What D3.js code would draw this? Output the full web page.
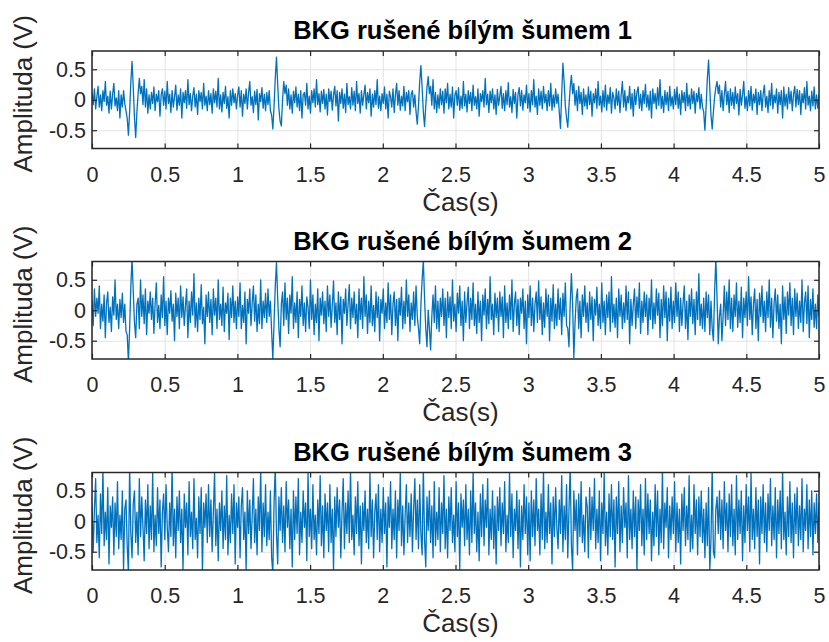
<!DOCTYPE html>
<html>
<head>
<meta charset="utf-8">
<script src="https://cdn.jsdelivr.net/npm/d3@7"></script>
<style>
  body { margin: 0; background: #fff; }
  text { font-family: "Liberation Sans", Arial, Helvetica, sans-serif; }
</style>
</head>
<body>
<div id="chart"></div>
<script>
// signal values (V), evenly spaced over 0..5 s
const sig1 = [
  .12,-.08,.18,-.15,.05,.22,-.12,.08,-.18,.15,-.03,.3,-.09,.06,-.22,.14,-.15,.09,.27,-.1,.03,-.18,.15,-.3,
  .08,-.12,.15,-.06,-.18,-.3,-.58,-.2,.3,.63,.2,-.3,-.62,-.2,.1,.35,.1,.22,-.08,.33,-.12,.18,-.22,.08,
  -.15,.12,-.06,.21,-.18,.09,-.03,.15,-.27,.08,.18,-.09,.14,-.15,.3,-.06,.09,-.21,.15,-.12,.05,.24,-.17,.08,
  -.09,.18,-.3,.12,-.05,.15,-.14,.33,-.08,.1,-.18,.06,.2,-.12,.09,-.24,.15,-.03,.12,-.15,.27,-.09,.06,-.18,
  .15,-.08,.1,-.22,.18,-.05,.14,-.12,.35,-.15,.08,-.2,.12,-.06,.22,-.14,.05,-.3,.15,-.09,.18,-.05,.1,-.15,
  .08,.21,-.12,.15,-.27,.09,-.06,.18,-.15,.12,.3,-.09,.05,-.21,.14,-.08,.17,-.33,.1,-.03,.2,-.14,.09,-.18,
  .12,-.08,.15,-.18,-.25,-.48,-.1,.35,.7,.25,-.15,-.35,-.43,0,.3,.1,.24,-.09,.18,-.15,.08,-.22,.14,-.05,
  .21,-.12,.09,-.18,.15,-.3,.08,.12,-.09,.27,-.15,.06,-.22,.15,-.05,.18,-.12,.33,-.08,.1,-.2,.14,-.06,.17,
  -.15,.09,-.25,.18,-.03,.14,-.17,.08,.22,-.1,.15,-.35,.12,-.06,.18,-.14,.09,-.21,.27,-.08,.05,-.15,.2,-.09,
  .14,-.18,.3,-.06,.1,-.22,.15,-.09,.08,.24,-.15,.12,-.05,.18,-.27,.09,-.12,.15,-.08,.33,-.14,.06,-.18,.1,
  -.06,.21,-.15,.09,-.3,.14,.05,-.12,.18,-.21,.08,.27,-.09,.15,-.17,.06,-.1,.22,-.18,.12,-.03,.15,-.24,.09,
  .15,-.12,.08,-.2,-.4,-.1,.3,.56,.2,-.2,-.44,-.1,.2,.38,.1,.22,-.09,.33,-.15,.12,-.21,.08,-.14,.18,
  -.08,.14,-.22,.18,-.05,.27,-.15,.09,-.12,.21,-.3,.08,.15,-.09,.2,-.17,.06,-.14,.3,-.1,.09,-.2,.15,-.06,
  .12,-.18,.24,-.09,.05,-.15,.18,-.27,.1,-.03,.15,-.12,.35,-.08,.09,-.21,.14,-.05,.18,-.15,.08,-.24,.17,-.09,
  .06,.22,-.14,.1,-.18,.15,-.08,.28,-.12,.05,-.21,.17,-.06,.12,-.3,.09,.2,-.1,.15,-.17,.08,-.05,.24,-.14,
  .1,-.2,.15,-.08,.33,-.12,.06,-.24,.18,-.09,.14,-.15,.22,-.05,.09,-.18,.15,-.1,.27,-.17,.08,-.12,.18,-.06,
  .09,-.2,-.47,.1,.6,.3,-.1,-.3,-.45,-.1,.2,.4,.1,.27,-.09,.15,-.18,.22,-.06,.12,-.24,.18,-.1,.08,
  -.15,.21,-.08,.14,-.27,.1,-.05,.18,-.14,.3,-.09,.06,-.2,.15,-.12,.24,-.17,.08,-.06,.2,-.22,.12,.03,-.15,
  .18,-.09,.14,-.21,.08,.3,-.12,.15,-.18,.06,-.05,.22,-.15,.1,-.27,.17,-.08,.12,.21,-.14,.09,-.18,.15,-.06,
  .25,-.12,.08,-.17,.14,-.3,.18,-.06,.1,-.15,.2,-.09,.33,-.14,.06,-.21,.15,-.08,.12,-.18,.22,-.1,.05,-.15,
  .17,-.08,.21,-.14,.09,-.24,.15,-.05,.12,-.18,.27,-.1,.08,-.15,.18,-.06,.14,-.22,.1,-.03,.2,-.15,.09,-.12,
  -.2,-.5,-.1,.35,.65,.2,-.25,-.48,-.2,.05,.2,.3,.1,.24,-.12,.15,-.18,.09,.3,-.08,.14,-.21,.18,-.09,
  .12,-.15,.21,-.06,.1,-.25,.17,-.09,.08,.3,-.14,.05,-.18,.15,-.1,.22,-.17,.09,-.05,.18,-.24,.12,-.08,.15,
  -.18,.1,.24,-.12,.06,-.21,.15,-.09,.27,-.15,.08,-.05,.18,-.22,.12,-.08,.15,-.3,.21,-.1,.09,-.15,.2,-.06,
  .14,-.18,.09,.22,-.12,.17,-.08,.15,-.24,.1,-.05,.2,-.15,.3,-.09,.06,-.18,.14,-.1,.21,-.15,.08,-.14,.09
];
const sig2 = [
  .15,-.25,.35,-.1,.2,-.05,.4,-.3,.1,-.18,.25,-.45,.12,.3,-.2,.05,-.35,.22,-.08,.5,-.15,.1,-.3,.18,
  -.12,.28,-.2,.1,-.35,-.4,-.85,-.3,.4,.85,.3,-.2,-.45,.1,.2,-.3,.5,-.1,.25,-.22,.35,-.4,.15,-.05,
  .3,-.15,.2,-.38,.1,.45,-.2,.08,-.3,.25,-.12,.55,-.25,.15,-.4,.2,-.05,.32,-.18,.1,-.5,.28,-.1,.2,
  -.3,.4,-.12,.22,-.25,.08,.35,-.45,.15,-.2,.3,-.08,.6,-.28,.12,-.35,.2,-.15,.42,-.22,.05,-.55,.25,-.1,
  .3,-.2,.18,-.4,.35,-.08,.2,-.3,.5,-.15,.1,-.25,.38,-.35,.12,-.05,.28,-.48,.2,-.12,.4,-.2,.15,-.3,
  .22,-.1,.45,-.3,.08,-.2,.3,-.55,.18,-.05,.35,-.25,.12,.4,-.18,.25,-.35,.1,-.22,.5,-.3,.15,-.12,.28,
  -.2,.35,-.1,.15,-.35,-.8,-.2,.4,.78,.2,-.3,-.6,.1,.3,-.25,.45,-.15,.2,-.38,.25,-.05,.55,-.3,.12,
  -.2,.3,-.45,.18,-.1,.4,-.25,.12,-.35,.22,.05,-.3,.5,-.15,.25,-.4,.1,-.2,.35,-.5,.2,-.08,.3,-.22,
  .15,-.35,.4,-.1,.25,-.28,.08,.48,-.2,.12,-.4,.3,-.15,.22,-.55,.18,-.05,.35,-.25,.1,.42,-.3,.2,-.12,
  .3,-.22,.1,-.45,.35,-.15,.2,-.3,.55,-.1,.25,-.38,.15,-.2,.4,-.25,.08,-.35,.3,-.12,.22,-.5,.18,-.05,
  .35,-.3,.12,-.2,.45,-.15,.25,-.4,.1,.3,-.25,.18,-.5,.2,-.08,.38,-.3,.15,-.22,.5,-.1,.25,-.35,.12,
  -.15,.3,-.25,.4,-.1,-.3,-.55,.1,.5,.82,.2,-.3,-.6,0,-.3,-.65,-.1,.25,-.2,.4,-.3,.15,-.35,.2,
  -.1,.35,-.25,.2,-.45,.3,-.12,.22,-.3,.5,-.18,.1,-.35,.28,-.05,.4,-.25,.15,-.5,.3,-.2,.12,.38,-.3,
  .2,-.15,.45,-.25,.1,-.38,.3,-.2,.15,-.5,.25,-.08,.35,-.3,.18,-.22,.55,-.15,.1,-.4,.28,-.12,.2,-.35,
  .3,-.1,.22,-.45,.4,-.2,.12,-.3,.25,-.15,.5,-.35,.1,.3,-.25,.18,-.4,.2,-.05,.35,-.3,.15,-.55,.25,
  -.12,.4,-.25,.2,-.35,.1,.3,-.2,.48,-.15,.22,-.4,.12,-.28,.35,-.1,.25,-.5,.2,-.18,.42,-.3,.1,-.25,
  .35,-.15,.2,-.4,.28,-.1,.45,-.25,-.3,-.6,.1,.6,.1,-.78,-.2,.2,.35,-.3,.15,-.45,.25,-.1,.4,-.2,
  .12,-.35,.3,-.15,.22,-.5,.18,-.08,.38,-.25,.1,-.3,.45,-.2,.15,-.4,.25,-.12,.3,-.35,.55,-.2,.1,-.28,
  .2,-.45,.35,-.1,.25,-.3,.12,-.2,.4,-.15,.3,-.55,.18,-.25,.1,.35,-.3,.22,-.12,.45,-.38,.15,-.2,.3,
  -.1,.25,-.4,.2,-.15,.5,-.3,.12,-.22,.35,-.08,.28,-.45,.18,-.25,.4,-.12,.3,-.5,.2,-.18,.38,-.3,.15,
  -.2,.45,-.1,.3,-.35,.2,-.25,.12,.4,-.3,.15,-.48,.25,-.1,.35,-.22,.18,-.4,.3,-.15,.6,-.25,.1,-.3,
  .2,-.35,.3,-.12,.25,-.4,.15,-.3,-.5,.3,.85,.2,-.55,-.1,.1,-.5,-.1,.4,-.25,.3,-.15,.5,-.3,.2,
  -.35,.25,-.1,.45,-.28,.15,-.2,.38,-.45,.2,-.12,.3,-.25,.55,-.15,.22,-.4,.1,.35,-.3,.18,-.5,.28,-.1,
  .4,-.2,.15,-.35,.3,-.12,.5,-.28,.2,-.45,.12,.35,-.18,.25,-.3,.1,-.55,.4,-.15,.22,-.38,.3,-.08,.45,
  -.25,.2,-.4,.35,-.1,.28,-.3,.15,-.2,.5,-.35,.12,.3,-.22,.4,-.45,.18,-.15,.35,-.28,.1,-.3,.25,-.1
];
const sig3 = [
  .3,-.5,.2,.7,-.35,.1,-.6,.45,-.2,.85,-.4,.15,-.3,.55,-.7,.25,-.1,.4,-.55,.3,-.25,.65,-.45,.1,
  -.3,.5,-.8,.2,.35,-.4,-.85,.9,-.2,-.6,.3,.5,-.35,.15,-.55,.7,-.25,.4,-.1,-.65,.35,-.2,.6,-.45,
  .25,-.3,.8,-.5,.1,-.4,.55,-.2,.35,-.75,.15,.45,-.3,.6,-.1,-.5,.3,-.25,.9,-.4,.2,-.6,.4,-.15,
  .5,-.35,.2,-.8,.45,-.1,.3,-.55,.65,-.25,.15,-.45,.7,-.3,.05,-.6,.4,-.2,.55,-.85,.3,-.1,.45,-.35,
  .6,-.25,.35,-.5,.15,.8,-.4,.2,-.65,.3,-.15,.5,-.45,.25,-.3,.75,-.55,.1,-.35,.45,-.2,.6,-.7,.3,
  -.1,.4,-.6,.25,.55,-.3,.15,-.8,.5,-.2,.35,-.45,.1,.7,-.35,.2,-.55,.4,-.15,.85,-.5,.3,-.25,.6,
  -.4,.15,-.3,.5,-.6,-.85,.3,.9,-.2,-.7,.4,-.15,.55,-.35,.25,-.5,.65,-.1,.35,-.45,.2,-.75,.5,-.3,
  .4,-.2,.7,-.55,.15,-.35,.5,-.1,.3,-.65,.8,-.25,.2,-.45,.6,-.3,.1,-.55,.35,-.2,.75,-.4,.25,-.6,
  .45,-.15,.3,-.5,.6,-.35,.2,-.8,.4,-.25,.55,-.1,.35,-.6,.15,.7,-.45,.3,-.2,.5,-.35,.85,-.3,.1,
  -.55,.4,-.2,.65,-.4,.25,-.7,.3,-.15,.5,-.35,.2,-.45,.8,-.25,.35,-.6,.15,.45,-.3,.6,-.5,.2,-.35,
  .55,-.2,.3,-.75,.4,-.1,.65,-.45,.2,-.3,.5,-.6,.35,-.15,.8,-.4,.25,-.55,.1,.6,-.35,.3,-.25,.45,
  -.5,.2,.7,-.3,.35,-.45,.6,-.2,-.55,.9,-.3,-.75,.4,-.15,.5,-.35,.25,-.6,.65,-.4,.15,-.3,.55,-.5,
  .3,-.2,.75,-.45,.2,-.6,.4,-.15,.55,-.35,.1,-.5,.65,-.25,.3,-.8,.45,-.1,.35,-.4,.6,-.3,.2,-.55,
  .5,-.35,.8,-.2,.3,-.5,.15,-.65,.45,-.25,.6,-.4,.35,-.1,.7,-.55,.2,-.3,.5,-.45,.25,-.7,.4,-.15,
  .55,-.4,.3,-.2,.65,-.5,.1,-.35,.8,-.25,.45,-.6,.2,-.15,.5,-.45,.35,-.75,.25,-.3,.6,-.2,.4,-.55,
  .3,-.65,.5,-.25,.35,-.4,.7,-.15,.2,-.55,.45,-.3,.85,-.45,.15,-.35,.6,-.2,.3,-.7,.4,-.25,.55,-.1,
  -.45,.35,-.2,.75,-.5,.25,-.3,.6,-.6,.2,.9,-.4,-.8,.5,-.15,.35,-.55,.45,-.25,.65,-.35,.1,-.5,.4,
  .25,-.6,.55,-.3,.4,-.15,.7,-.45,.2,-.35,.5,-.65,.3,-.2,.8,-.4,.15,-.55,.45,-.25,.6,-.3,.35,-.75,
  .4,-.2,.65,-.5,.25,-.35,.55,-.1,.3,-.6,.75,-.3,.2,-.45,.5,-.25,.4,-.8,.35,-.15,.6,-.4,.2,-.55,
  .7,-.3,.45,-.2,.35,-.65,.15,-.4,.6,-.25,.5,-.55,.2,-.35,.85,-.45,.3,-.1,.55,-.6,.25,-.3,.4,-.2,
  .65,-.5,.3,-.35,.2,-.7,.45,-.15,.55,-.4,.25,-.3,.75,-.5,.1,-.45,.6,-.2,.35,-.55,.4,-.25,.5,-.35,
  .2,-.6,.3,-.4,.55,-.8,-.3,.9,-.5,-.6,.2,.4,-.2,.5,-.3,.35,-.45,.65,-.15,.3,-.5,.45,-.25,.6,
  -.4,.2,-.55,.75,-.3,.35,-.2,.5,-.65,.25,-.35,.6,-.15,.4,-.5,.8,-.3,.2,-.45,.55,-.25,.35,-.7,.4,
  -.2,.6,-.35,.3,-.5,.45,-.15,.7,-.4,.25,-.3,.55,-.6,.35,-.2,.5,-.45,.85,-.3,.15,-.55,.4,-.25,.65,
  -.35,.3,-.6,.45,-.2,.55,-.4,.25,-.3,.7,-.5,.2,-.15,.6,-.45,.35,-.25,.5,-.55,.3,-.2,.45,-.35,.3
];

const titles = ["BKG rušené bílým šumem 1", "BKG rušené bílým šumem 2", "BKG rušené bílým šumem 3"];
const xTicks = [0, 0.5, 1, 1.5, 2, 2.5, 3, 3.5, 4, 4.5, 5];
const yTicks = [-0.5, 0, 0.5];
const xLabel = "Čas(s)";
const yLabel = "Amplituda (V)";
const duration = 5;      // s
const yLimit = 0.8;      // V

// chart dimensions
const width = 829;
const height = 642;
const marginLeft = 92;
const marginRight = 10;
const panelTops = [51, 261.5, 472.5];
const panelHeight = 97.5;

const axisColor = "#262626";
const gridColor = "#e3e3e3";
const lineColor = "#0072bd";

const svg = d3.create("svg")
    .attr("width", width)
    .attr("height", height)
    .style("background", "#fff");

const x = d3.scaleLinear([0, duration], [marginLeft, width - marginRight]);
const xMid = (marginLeft + width - marginRight) / 2;

const signals = [sig1, sig2, sig3];

signals.forEach((sig, k) => {
    const top = panelTops[k];
    const bottom = top + panelHeight;
    const y = d3.scaleLinear([-yLimit, yLimit], [bottom, top]);
    const g = svg.append("g");

    // grid
    g.append("g")
        .attr("transform", `translate(0,${bottom})`)
        .call(d3.axisBottom(x).tickValues(xTicks).tickSize(-panelHeight).tickFormat(""))
        .call(a => a.select(".domain").remove())
        .selectAll("line").attr("stroke", gridColor);
    g.append("g")
        .attr("transform", `translate(${marginLeft},0)`)
        .call(d3.axisLeft(y).tickValues(yTicks).tickSize(-(width - marginRight - marginLeft)).tickFormat(""))
        .call(a => a.select(".domain").remove())
        .selectAll("line").attr("stroke", gridColor);

    // signal, clipped to the axes box
    const clipId = "clip" + k;
    svg.append("clipPath").attr("id", clipId)
        .append("rect")
        .attr("x", marginLeft).attr("y", top)
        .attr("width", width - marginRight - marginLeft).attr("height", panelHeight);

    const line = d3.line()
        .x((d, i) => x(i * duration / (sig.length - 1)))
        .y(d => y(d));

    g.append("path")
        .attr("clip-path", `url(#${clipId})`)
        .attr("fill", "none")
        .attr("stroke", lineColor)
        .attr("stroke-width", 1.3)
        .attr("stroke-linejoin", "round")
        .attr("d", line(sig));

    // axes with inward ticks
    g.append("g")
        .attr("transform", `translate(0,${bottom})`)
        .call(d3.axisBottom(x).tickValues(xTicks).tickSize(-5).tickPadding(18).tickFormat(d => String(d)));
    g.append("g")
        .attr("transform", `translate(${marginLeft},0)`)
        .call(d3.axisLeft(y).tickValues(yTicks).tickSize(-5).tickPadding(6).tickFormat(d => String(d)));
    g.append("g")
        .attr("transform", `translate(0,${top})`)
        .call(d3.axisTop(x).tickValues(xTicks).tickSize(-5).tickFormat(""));
    g.append("g")
        .attr("transform", `translate(${width - marginRight},0)`)
        .call(d3.axisRight(y).tickValues(yTicks).tickSize(-5).tickFormat(""));

    g.selectAll(".domain").remove();
    g.selectAll(".tick line").filter(function () { return this.getAttribute("stroke") !== gridColor; })
        .attr("stroke", axisColor).attr("stroke-width", 1.2);
    g.selectAll(".tick text")
        .attr("fill", axisColor)
        .style("font-size", "21.5px");

    // box
    g.append("rect")
        .attr("x", marginLeft).attr("y", top)
        .attr("width", width - marginRight - marginLeft).attr("height", panelHeight)
        .attr("fill", "none")
        .attr("stroke", axisColor)
        .attr("stroke-width", 1.5);

    // title
    g.append("text")
        .text(titles[k])
        .attr("x", xMid + 7)
        .attr("y", top - 12)
        .attr("text-anchor", "middle")
        .attr("font-weight", "bold")
        .style("font-size", "25.5px")
        .attr("fill", "#000");

    // axis labels
    g.append("text")
        .text(xLabel)
        .attr("x", xMid + 5)
        .attr("y", bottom + 62)
        .attr("text-anchor", "middle")
        .style("font-size", "26px")
        .attr("fill", axisColor);

    g.append("text")
        .text(yLabel)
        .attr("transform", `translate(32,${top + panelHeight / 2 - 6}) rotate(-90)`)
        .attr("text-anchor", "middle")
        .style("font-size", "26px")
        .attr("fill", axisColor);
});

chart.append(svg.node());
</script>
</body>
</html>
